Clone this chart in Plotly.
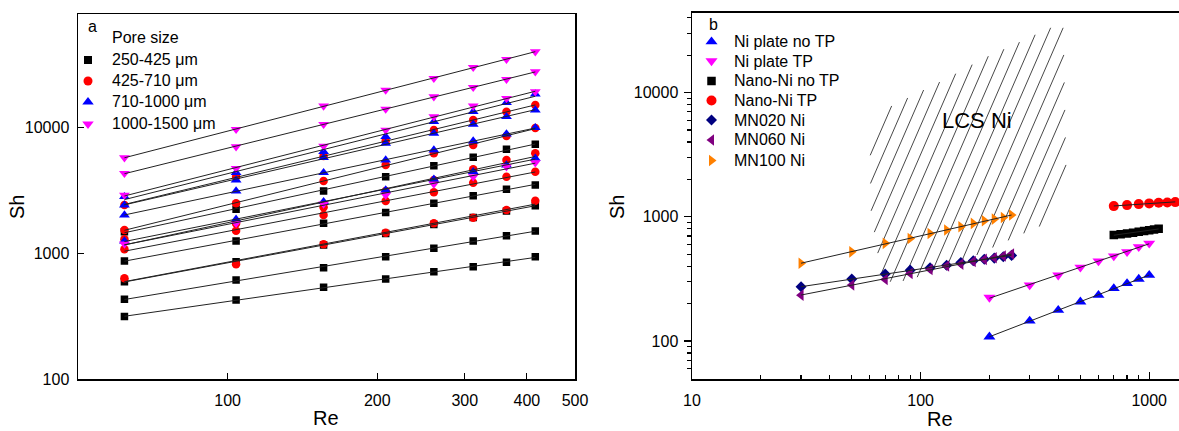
import numpy as np
import plotly.graph_objects as go

W, H = 1179, 431

# ---------------- Panel a data ----------------
re_a = [62, 104, 156, 208, 260, 312, 364, 416]
sh_250_425 = [
    [1491, 2246, 3140, 4078, 4989, 5818, 6735, 7379],
    [872, 1257, 1739, 2118, 2506, 2880, 3238, 3503],
    [597, 861, 1168, 1442, 1701, 1933, 2177, 2399],
    [432, 616, 771, 943, 1100, 1257, 1385, 1510],
    [315, 427, 539, 627, 717, 785, 851, 943],
]
sh_425_710 = [
    [2430, 4078, 5957, 7840, 9587, 11510, 13400, 15150],
    [1538, 2506, 3770, 5051, 6259, 7287, 8590, 9945],
    [1297, 1732, 2329, 3140, 3839, 4670, 5537, 6259],
    [1080, 1518, 2023, 2614, 3066, 3654, 4078, 4470],
    [635, 821, 1183, 1464, 1739, 1925, 2217, 2628],
]
sh_710_1000 = [
    [2828, 4388, 6446, 8483, 11160, 13400, 15800, 18530],
    [2430, 3839, 5776, 7516, 9026, 10640, 12230, 13830],
    [2023, 3140, 4388, 5537, 6648, 7840, 8912, 10000],
    [1257, 1871, 2581, 3197, 3889, 4470, 5051, 5712],
]
sh_1000_1500 = [
    [5776, 9712, 14880, 19940, 24700, 30210, 34980, 40200],
    [4340, 7063, 10640, 14080, 17640, 20950, 24250, 27870],
    [2917, 4757, 7153, 9587, 12230, 14880, 17130, 19330],
    [1190, 1738, 2475, 2917, 3568, 4078, 4898, 5270],
]
pore_labels = ["250-425 μm", "425-710 μm", "710-1000 μm", "1000-1500 μm"]

# ---------------- Panel b data ----------------
re_mn = [30, 50, 70, 90, 110, 130, 150, 170, 190, 210, 230, 250]
sh_mn020 = [273, 315, 346, 372, 388, 408, 429, 443, 456, 465, 476, 489]
sh_mn060 = [234, 282, 313, 350, 377, 401, 416, 437, 454, 468, 483, 501]
sh_mn100 = [422, 522, 611, 670, 735, 782, 832, 885, 929, 958, 989, 1032]
re_plate = [200, 300, 400, 500, 600, 700, 800, 900, 1000]
sh_plate_tp = [224, 282, 339, 392, 440, 483, 523, 573, 611]
sh_plate_notp = [108, 145, 177, 207, 234, 265, 291, 315, 339]
re_nano_tp = [700, 800, 900, 1000, 1100, 1200, 1300]
sh_nano_tp = [1219, 1242, 1265, 1282, 1297, 1305, 1313]
re_nano_notp = [700, 750, 800, 850, 900, 950, 1000, 1050, 1100]
sh_nano_notp = [712, 725, 735, 745, 757, 768, 778, 790, 800]
# LCS Ni region outline (Re, Sh)
lcs_re = [60.1, 68.7, 96.2, 134.5, 188, 263, 368, 421, 435, 368, 272, 188, 134.5, 81.3, 68.7, 64.3, 60.5]
lcs_sh = [4276, 7228, 9850, 13400, 18830, 24880, 33250, 33250, 1589, 911, 713, 523, 384, 300, 300, 557, 1169]

# ---------------- geometry ----------------
FONT = "Arial, Liberation Sans, sans-serif"
xa_dom = [78 / W, 575 / W]
ya_dom = [1 - 379.3 / H, 1 - 14 / H]
xb_dom = [692 / W, 1.0]
yb_dom = [1 - 379 / H, 1 - 12.5 / H]
xa_rng = [np.log10(50), np.log10(500)]
ya_rng = [2, 4.904]
xb_rng = [1, 1 + (W - 692) / 228.6]
yb_rng = [1.694, 4.645]

fig = go.Figure()

def fit_line(xs, ys):
    lx, ly = np.log10(xs), np.log10(ys)
    p = np.polyfit(lx, ly, 1)
    xx = np.array([min(xs), max(xs)])
    return list(xx), list(10 ** np.polyval(p, np.log10(xx)))

# ---- panel a markers ----
groups_a = [
    (sh_250_425, "black", "square", 7.5),
    (sh_425_710, "red", "circle", 8.5),
    (sh_710_1000, "blue", "triangle-up", 9.5),
    (sh_1000_1500, "magenta", "triangle-down", 9.5),
]
for (series, col, sym, sz), lab in zip(groups_a, pore_labels):
    for ys in series:
        fig.add_trace(go.Scatter(x=re_a, y=ys, mode="markers", name=lab,
                                 marker=dict(color=col, symbol=sym, size=sz),
                                 showlegend=False, xaxis="x", yaxis="y"))
lxs, lys = [], []
for series, _, _, _ in groups_a:
    for ys in series:
        fx, fy = fit_line(re_a, ys)
        lxs += fx + [None]
        lys += fy + [None]
fig.add_trace(go.Scatter(x=lxs, y=lys, mode="lines", line=dict(color="#222", width=1),
                         showlegend=False, xaxis="x", yaxis="y", hoverinfo="skip"))

# ---- panel b hatch (LCS Ni) ----
SX, SY = 228.6, 124.2   # px per decade
k, step = 2.3, 12.5
px = [np.log10(v) * SX for v in lcs_re]
py = [np.log10(v) * SY for v in lcs_sh]
n = len(px)
cs = [x - y / k for x, y in zip(px, py)]
hx, hy = [], []
c = min(cs) + step * 0.6
while c < max(cs):
    ts = []
    for i in range(n):
        x1, y1 = px[i], py[i]
        x2, y2 = px[(i + 1) % n], py[(i + 1) % n]
        f1 = x1 - y1 / k - c
        f2 = x2 - y2 / k - c
        if (f1 > 0) != (f2 > 0):
            t = f1 / (f1 - f2)
            ts.append(y1 + t * (y2 - y1))
    ts.sort()
    for j in range(0, len(ts) - 1, 2):
        for yv in (ts[j], ts[j + 1]):
            hx.append(10 ** ((c + yv / k) / SX))
            hy.append(10 ** (yv / SY))
        hx.append(None)
        hy.append(None)
    c += step
fig.add_trace(go.Scatter(x=hx, y=hy, mode="lines", line=dict(color="#333", width=0.9),
                         showlegend=False, xaxis="x2", yaxis="y2", hoverinfo="skip"))

# ---- panel b markers ----
groups_b = [
    (re_plate, sh_plate_notp, "Ni plate no TP", "blue", "triangle-up", 10.5),
    (re_plate, sh_plate_tp, "Ni plate TP", "magenta", "triangle-down", 10.5),
    (re_nano_notp, sh_nano_notp, "Nano-Ni no TP", "black", "square", 8.5),
    (re_nano_tp, sh_nano_tp, "Nano-Ni TP", "red", "circle", 10),
    (re_mn, sh_mn020, "MN020 Ni", "#000080", "diamond", 8.5),
    (re_mn, sh_mn060, "MN060 Ni", "#800080", "triangle-left", 10),
    (re_mn, sh_mn100, "MN100 Ni", "#FF8000", "triangle-right", 10),
]
for xs, ys, lab, col, sym, sz in groups_b:
    fig.add_trace(go.Scatter(x=xs, y=ys, mode="markers", name=lab,
                             marker=dict(color=col, symbol=sym, size=sz),
                             showlegend=False, xaxis="x2", yaxis="y2"))
lxs, lys = [], []
for xs, ys, *_ in groups_b:
    fx, fy = fit_line(xs, ys)
    lxs += fx + [None]
    lys += fy + [None]
fig.add_trace(go.Scatter(x=lxs, y=lys, mode="lines", line=dict(color="#222", width=1),
                         showlegend=False, xaxis="x2", yaxis="y2", hoverinfo="skip"))

# ---- legends (pixel overlay axis) ----
ann = []
def ptext(x, y, s, size=16, xanchor="left", angle=0):
    ann.append(dict(x=x / W, y=1 - y / H, xref="paper", yref="paper", text=s, showarrow=False,
                    xanchor=xanchor, yanchor="middle", textangle=angle,
                    font=dict(family=FONT, size=size, color="black")))

leg_a_rows = [60, 81, 102, 124]
for (series, col, sym, sz), lab, ry in zip(groups_a, pore_labels, leg_a_rows):
    fig.add_trace(go.Scatter(x=[88], y=[ry], mode="markers", marker=dict(color=col, symbol=sym, size=sz + 0.5),
                             showlegend=False, xaxis="x3", yaxis="y3", hoverinfo="skip"))
    ptext(110, ry, lab)
ptext(86, 26, "a", 16)
ptext(110, 38, "Pore size", 16)

leg_b_rows = [41.7, 61, 81, 100.5, 120, 140, 160.5]
for (xs, ys, lab, col, sym, sz), ry in zip(groups_b, leg_b_rows):
    fig.add_trace(go.Scatter(x=[711.5], y=[ry], mode="markers", marker=dict(color=col, symbol=sym, size=sz),
                             showlegend=False, xaxis="x3", yaxis="y3", hoverinfo="skip"))
    ptext(732, ry, lab)
ptext(707, 24, "b", 16)

# axis titles and region label
ptext(326, 418, "Re", 20, "center")
ptext(940, 419, "Re", 20, "center")
ptext(17, 207, "Sh", 20, "center", -90)
ptext(617, 207, "Sh", 20, "center", -90)
ann.append(dict(x=np.log10(176), y=np.log10(6005), xref="x2", yref="y2", text="LCS Ni",
                showarrow=False, font=dict(family=FONT, size=22, color="black")))

axis_common = dict(type="log", showline=True, linecolor="black", linewidth=1.5, showgrid=False,
                   zeroline=False, ticks="inside", tickcolor="black", tickwidth=1.2, automargin=False,
                   tickfont=dict(family=FONT, size=16, color="black"))

fig.update_layout(
    width=W, height=H, margin=dict(l=0, r=0, t=0, b=0, pad=0, autoexpand=False),
    paper_bgcolor="white", plot_bgcolor="rgba(0,0,0,0)", showlegend=False,
    xaxis=dict(**axis_common, domain=xa_dom, range=xa_rng, anchor="y", mirror=True,
               tickmode="array", tickvals=[100, 200, 300, 400, 500],
               ticktext=["100", "200", "300", "400", "500"], ticklen=6, ticklabelstandoff=6),
    yaxis=dict(**axis_common, domain=ya_dom, range=ya_rng, anchor="x", mirror=True,
               tickmode="array", tickvals=[100, 1000, 10000],
               ticktext=["100", "1000", "10000"], ticklen=6, ticklabelstandoff=4),
    xaxis2=dict(**axis_common, domain=xb_dom, range=xb_rng, anchor="y2", mirror=True,
                tickmode="array", tickvals=[10, 100, 1000], ticktext=["10", "100", "1000"],
                ticklen=7, ticklabelstandoff=6,
                minor=dict(tickmode="array",
                           tickvals=[20, 30, 40, 50, 60, 70, 80, 90, 200, 300, 400, 500, 600, 700, 800, 900],
                           ticks="inside", ticklen=4, tickcolor="black", tickwidth=1.2, showgrid=False)),
    yaxis2=dict(**{**axis_common, "ticks": "outside"}, domain=yb_dom, range=yb_rng, anchor="x2",
                tickmode="array", tickvals=[100, 1000, 10000], ticktext=["100", "1000", "10000"],
                ticklen=7, ticklabelstandoff=2,
                minor=dict(tickmode="array",
                           tickvals=[60, 70, 80, 90, 200, 300, 400, 500, 600, 700, 800, 900,
                                     2000, 3000, 4000, 5000, 6000, 7000, 8000, 9000,
                                     20000, 30000, 40000],
                           ticks="outside", ticklen=4, tickcolor="black", tickwidth=1.2, showgrid=False)),
    xaxis3=dict(domain=[0, 1], range=[0, W], visible=False, fixedrange=True, anchor="y3", automargin=False),
    yaxis3=dict(domain=[0, 1], range=[H, 0], visible=False, fixedrange=True, anchor="x3", automargin=False),
    annotations=ann,
)

fig.write_html("out.html", config={"displayModeBar": False, "staticPlot": True},
               post_script="document.body.style.margin='0';document.body.style.padding='0';"
                           "document.body.style.overflow='hidden';")
